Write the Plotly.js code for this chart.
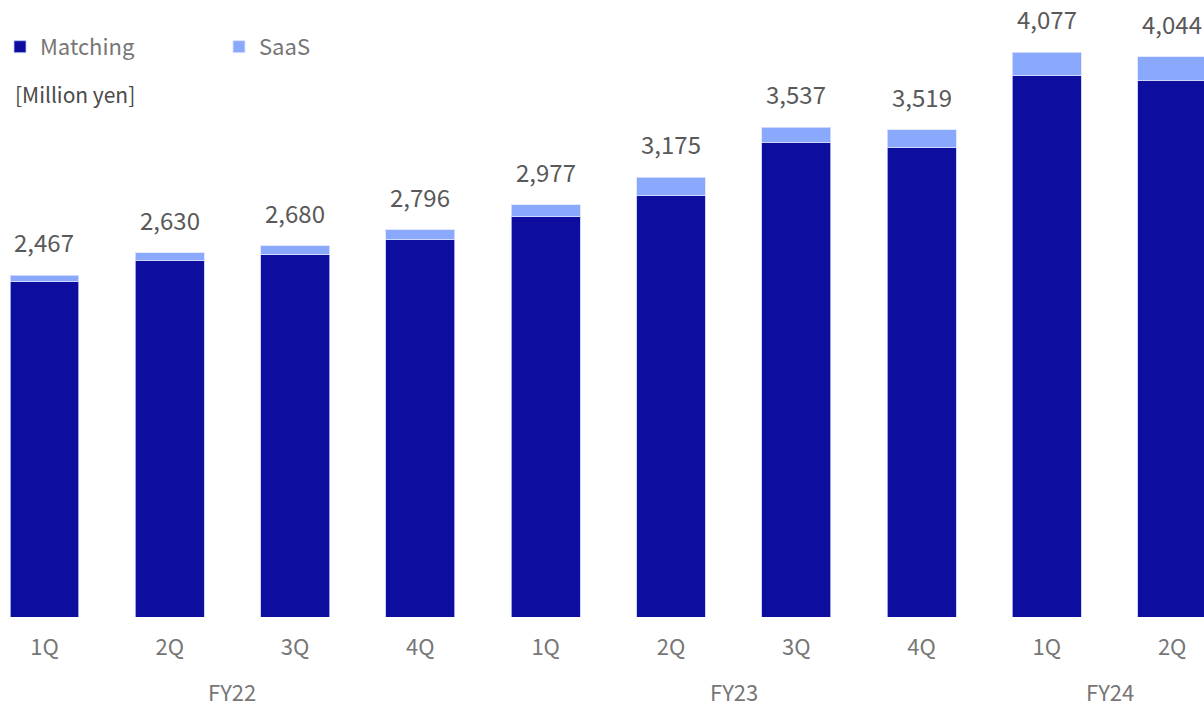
<!DOCTYPE html>
<html>
<head>
<meta charset="utf-8">
<script src="https://cdn.plot.ly/plotly-3.0.1.min.js"></script>
<style>html,body{margin:0;padding:0;background:#fff;}#chart{width:1204px;height:707px;}</style>
</head>
<body>
<div id="chart"></div>
<script>
const quarters = ["1Q","2Q","3Q","4Q","1Q","2Q","3Q","4Q","1Q","2Q"];
const fiscalYears = ["FY22","FY22","FY22","FY22","FY23","FY23","FY23","FY23","FY24","FY24"];
const totals = [2467, 2630, 2680, 2796, 2977, 3175, 3537, 3519, 4077, 4044];
const saas = [46, 53, 65, 74, 89, 133, 111, 130, 169, 171];
const matching = totals.map((t, i) => t - saas[i]);
const unitLabel = "[Million yen]";

const idx = quarters.map((_, i) => i);
const FONT = "'Noto Sans CJK JP', 'Noto Sans', sans-serif";

const traces = [
  {type: "bar", name: "Matching", x: idx, y: matching, width: 0.55,
   marker: {color: "#0E0E9E", line: {color: "rgba(190,200,255,0.8)", width: 1}}, hoverinfo: "skip"},
  {type: "bar", name: "SaaS", x: idx, y: saas, width: 0.55,
   marker: {color: "#8AA9FD", line: {color: "rgba(220,228,255,0.8)", width: 1}}, hoverinfo: "skip"}
];

const annotations = totals.map((t, i) => ({
  x: i, y: t, xref: "x", yref: "y", text: t.toLocaleString("en-US"),
  showarrow: false, yanchor: "bottom", yshift: 14,
  font: {family: FONT, size: 24, color: "#595959"}
}));

const groups = [];
fiscalYears.forEach((fy, i) => {
  let g = groups.find(o => o.name === fy);
  if (!g) { g = {name: fy, idx: []}; groups.push(g); }
  g.idx.push(i);
});
groups.forEach(g => {
  const c = g.idx.reduce((a, b) => a + b, 0) / g.idx.length;
  annotations.push({x: c, y: -0.12, xref: "x", yref: "paper", text: g.name,
    showarrow: false, yanchor: "middle",
    font: {family: FONT, size: 22, color: "#767676"}});
});

annotations.push({x: 0.011, y: 0.848, xref: "paper", yref: "paper", xanchor: "left",
  yanchor: "middle", text: unitLabel, showarrow: false,
  font: {family: FONT, size: 21, color: "#4a4a4a"}});

const layout = {
  width: 1204, height: 707,
  margin: {l: 0, r: 0, t: 0, b: 90},
  paper_bgcolor: "#fff", plot_bgcolor: "#fff",
  barmode: "stack",
  showlegend: true,
  legend: {orientation: "h", traceorder: "normal", x: 0, y: 0.924, xanchor: "left", yanchor: "middle",
    entrywidth: 174, entrywidthmode: "pixels",
    font: {family: FONT, size: 22, color: "#767676"}, bgcolor: "rgba(0,0,0,0)"},
  xaxis: {range: [-0.355, 9.254], tickvals: idx, ticktext: quarters,
    showgrid: false, zeroline: false, showline: false, ticks: "",
    ticklabelstandoff: 15,
    tickfont: {family: FONT, size: 22, color: "#767676"}},
  yaxis: {range: [0, 4454], showgrid: false, zeroline: false, showline: false,
    showticklabels: false, ticks: ""},
  annotations: annotations
};

Plotly.newPlot("chart", traces, layout, {displayModeBar: false, staticPlot: true});
</script>
</body>
</html>
